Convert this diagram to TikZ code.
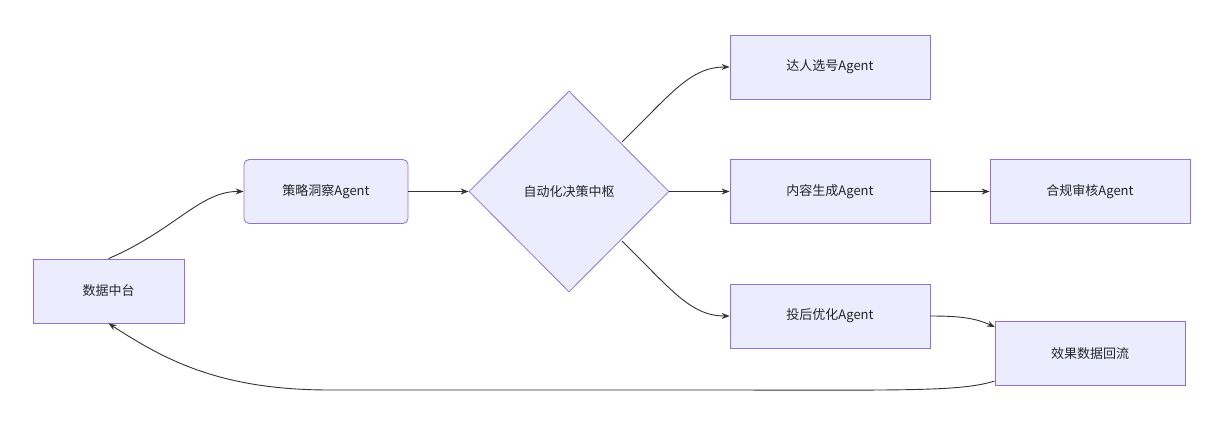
\documentclass[tikz,border=0pt]{standalone}
\usepackage{fontspec}
\setmainfont{Noto Sans CJK SC}
\usetikzlibrary{shapes.geometric,arrows.meta}
\definecolor{nfill}{HTML}{ECECFF}
\definecolor{nline}{HTML}{9370DB}
\definecolor{eline}{HTML}{333333}
\begin{document}
\begin{tikzpicture}[x=1pt,y=-1pt,
  box/.style={draw=nline,fill=nfill,line width=0.8pt,minimum height=64pt,inner sep=0pt,font=\fontsize{13}{15}\selectfont,text=black!85},
  dia/.style={diamond,draw=nline,fill=nfill,line width=0.8pt,minimum width=200pt,minimum height=201pt,inner sep=0pt,font=\fontsize{13}{15}\selectfont,text=black!85},
  arr/.style={draw=eline,line width=0.9pt,-{Stealth[length=8pt,width=6pt]}}]
\useasboundingbox (0,0) rectangle (1224,424);
\node[box,minimum width=151pt] (dc) at (108.5,291) {数据中台};
\node[box,minimum width=164pt,rounded corners=5pt] (cl) at (326,191.5) {策略洞察Agent};
\node[dia] (hub) at (569,191.5) {自动化决策中枢};
\node[box,minimum width=200pt] (dr) at (830,67) {达人选号Agent};
\node[box,minimum width=200pt] (nr) at (830,191.5) {内容生成Agent};
\node[box,minimum width=200pt] (hg) at (1090,191.5) {合规审核Agent};
\node[box,minimum width=200pt] (th) at (830,316) {投后优化Agent};
\node[box,minimum width=190pt] (xg) at (1090,353.5) {效果数据回流};
\coordinate (h1) at (622,142);
\coordinate (h2) at (622,241);
\coordinate (x1) at (995,327);
\draw[arr] (dc.north) .. controls (175,230) and (200,191) .. (cl.west);
\draw[arr] (cl.east) -- (hub.west);
\draw[arr] (h1) .. controls (670,95) and (690,67) .. (dr.west);
\draw[arr] (hub.east) -- (nr.west);
\draw[arr] (h2) .. controls (670,288) and (690,316) .. (th.west);
\draw[arr] (nr.east) -- (hg.west);
\draw[arr] (th.east) .. controls (960,316) and (975,318) .. (x1);
\draw[arr] (xg.west|-0,381) .. controls (960,392) and (900,390) .. (700,390) -- (330,390) .. controls (220,390) and (165,360) .. (dc.south);
\end{tikzpicture}
\end{document}
